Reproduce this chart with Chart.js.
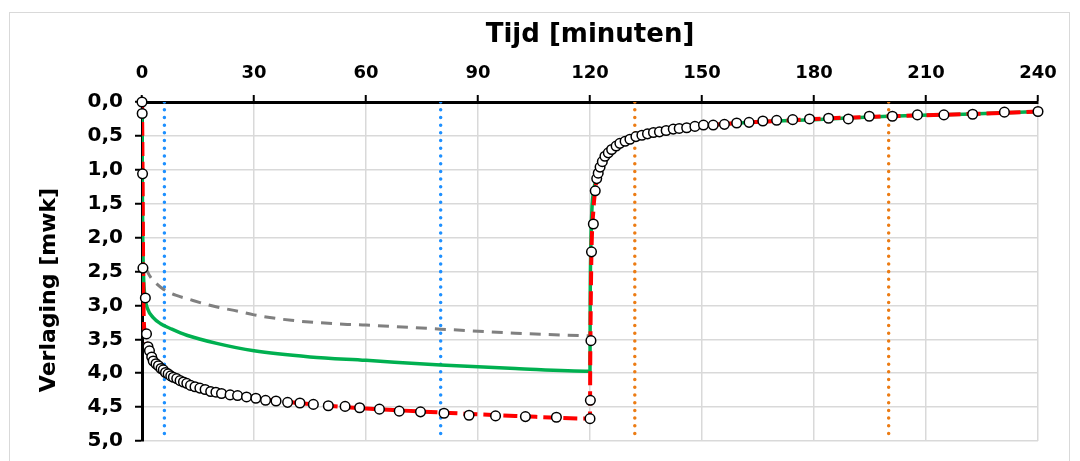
<!DOCTYPE html>
<html>
<head>
<meta charset="utf-8">
<script src="https://cdn.jsdelivr.net/npm/chart.js@4.4.1/dist/chart.umd.min.js"></script>
<style>
    html, body { margin: 0; padding: 0; background: #fff; }
    #wrap { position: relative; width: 1080px; height: 461px; overflow: hidden; }
    #frame { position: absolute; left: 9px; top: 12px; width: 1061px; height: 470px; border: 1.5px solid #d9d9d9; box-sizing: border-box; }
    #chart { position: absolute; left: 0; top: 0; }
</style>
</head>
<body>
<div id="wrap">
    <div id="frame"></div>
    <canvas id="chart" width="1080" height="461"></canvas>
</div>
<script>
// axis texts
var xTitle = 'Tijd [minuten]';
var yTitle = 'Verlaging [mwk]';

// measured drawdown (circles)
var measTime = [0, 0.05, 0.15, 0.25, 0.9, 1.2, 1.6, 2.0, 2.6, 3.0, 3.75, 4.4, 5.1, 5.7, 6.3, 7.0, 7.7, 8.4, 9.3, 10.2,
    11.1, 12.0, 13.0, 14.2, 15.5, 16.9, 18.4, 19.8, 21.3, 23.6, 25.6, 28.0, 30.5, 33.1, 35.9, 39.0, 42.3, 45.9, 49.9, 54.4,
    58.3, 63.6, 68.9, 74.6, 80.9, 87.6, 94.7, 102.7, 111.0, 120.0, 120.1, 120.25, 120.4, 120.9, 121.4, 121.8, 122.2, 122.7, 123.3, 124.0,
    124.9, 125.8, 127.0, 128.0, 129.4, 130.7, 132.3, 133.9, 135.4, 137.0, 138.6, 140.4, 142.3, 143.9, 145.9, 148.1, 150.4, 153.0, 156.0, 159.3,
    162.6, 166.3, 170.0, 174.3, 178.8, 183.9, 189.2, 194.8, 201.0, 207.7, 214.8, 222.5, 231.0, 240.0];
var measDepth = [0, 0.17, 1.06, 2.45, 2.89, 3.42, 3.61, 3.67, 3.76, 3.82, 3.86, 3.89, 3.93, 3.95, 3.99, 4.01, 4.04, 4.06, 4.08, 4.11,
    4.13, 4.15, 4.18, 4.20, 4.22, 4.24, 4.27, 4.28, 4.30, 4.32, 4.33, 4.35, 4.37, 4.40, 4.41, 4.43, 4.44, 4.46, 4.48, 4.49,
    4.51, 4.53, 4.56, 4.57, 4.59, 4.62, 4.63, 4.64, 4.65, 4.67, 4.40, 3.52, 2.21, 1.80, 1.31, 1.13, 1.05, 0.96, 0.88, 0.80,
    0.75, 0.70, 0.65, 0.61, 0.58, 0.55, 0.51, 0.49, 0.47, 0.45, 0.44, 0.42, 0.40, 0.39, 0.38, 0.36, 0.34, 0.34, 0.33, 0.31,
    0.30, 0.28, 0.27, 0.26, 0.25, 0.24, 0.25, 0.21, 0.21, 0.19, 0.19, 0.18, 0.15, 0.14];

// fitted model (red dashed)
var fitTime = [0, 0.1, 0.2, 0.3, 0.4, 0.6, 1.0, 1.7, 2.6, 3.75, 5, 7, 10, 15, 20, 30, 40, 50, 60, 80, 100, 120,
    120.05, 120.2, 120.4, 120.9, 121.4, 122, 123, 124, 125.5, 127, 129, 132, 135, 140, 145, 150, 160, 170, 180, 200, 220, 240];
var fitDepth = [0, 0.6, 1.5, 2.4, 3.0, 3.35, 3.52, 3.63, 3.75, 3.86, 3.93, 4.01, 4.10, 4.21, 4.28, 4.37, 4.43, 4.48, 4.52, 4.58, 4.63, 4.67,
    4.0, 3.0, 2.2, 1.6, 1.3, 1.07, 0.9, 0.8, 0.71, 0.65, 0.59, 0.52, 0.47, 0.42, 0.38, 0.35, 0.31, 0.28, 0.25, 0.21, 0.18, 0.14];

// second model (green solid)
var modelTime = [0, 0.05, 0.1, 0.2, 0.4, 0.8, 1.5, 3, 5, 8, 12, 20, 30, 45, 60, 80, 100, 120,
    120.05, 120.2, 120.5, 121, 121.6, 122.2, 123, 124, 125.5, 127, 129, 132, 135, 140, 145, 150, 160, 170, 180, 200, 220, 240];
var modelDepth = [0, 0.6, 1.3, 2.0, 2.55, 2.88, 3.05, 3.18, 3.27, 3.35, 3.44, 3.56, 3.67, 3.76, 3.81, 3.88, 3.93, 3.97,
    3.0, 2.2, 1.6, 1.3, 1.15, 1.05, 0.92, 0.81, 0.72, 0.65, 0.59, 0.52, 0.47, 0.42, 0.38, 0.35, 0.31, 0.28, 0.26, 0.21, 0.18, 0.14];

// straight-line approximation (grey dashed)
var approxTime = [1, 2, 3.5, 5.7, 9, 12, 19, 26, 30, 40, 55, 60, 80, 100, 120];
var approxDepth = [2.45, 2.56, 2.66, 2.76, 2.85, 2.90, 3.01, 3.09, 3.14, 3.22, 3.28, 3.29, 3.35, 3.41, 3.45];

// vertical dotted markers
var blueTimes = [6, 80];
var orangeTimes = [132, 200];

var yMin = 0, yMax = 5;

function pairs(xs, ys) {
    var out = [];
    for (var i = 0; i < xs.length; i++) out.push({ x: xs[i], y: ys[i] });
    return out;
}

function vLine(t, color) {
    return {
        data: [{ x: t, y: yMin }, { x: t, y: yMax }],
        showLine: true,
        borderColor: color,
        borderWidth: 3.5,
        borderDash: [0.01, 7.7],
        borderCapStyle: 'round',
        pointRadius: 0,
        order: 5
    };
}

var font = 'DejaVu Sans';

var yTitlePlugin = {
    id: 'yTitle',
    afterDraw: function (chart) {
        var ctx = chart.ctx;
        ctx.save();
        ctx.translate(49, 290);
        ctx.rotate(-Math.PI / 2);
        ctx.font = 'bold 22px "' + font + '"';
        ctx.fillStyle = '#000';
        ctx.textAlign = 'center';
        ctx.textBaseline = 'middle';
        ctx.fillText(yTitle, 0, 0);
        ctx.restore();
    }
};

var datasets = [
    {
        data: pairs(measTime, measDepth),
        showLine: false,
        pointStyle: 'circle',
        pointRadius: 4.8,
        pointBorderWidth: 1.5,
        pointBorderColor: '#000',
        pointBackgroundColor: '#fff',
        clip: false,
        order: 0
    },
    {
        data: pairs(fitTime, fitDepth),
        showLine: true,
        borderColor: '#ff0000',
        borderWidth: 4,
        borderDash: [14, 6],
        cubicInterpolationMode: 'monotone',
        pointRadius: 0,
        order: 1
    },
    {
        data: pairs(modelTime, modelDepth),
        showLine: true,
        borderColor: '#00b050',
        borderWidth: 3.5,
        cubicInterpolationMode: 'monotone',
        pointRadius: 0,
        order: 2
    },
    {
        data: pairs(approxTime, approxDepth),
        showLine: true,
        borderColor: '#808080',
        borderWidth: 3,
        borderDash: [11, 8],
        cubicInterpolationMode: 'monotone',
        pointRadius: 0,
        order: 3
    }
];
blueTimes.forEach(function (t) { datasets.push(vLine(t, '#1e90ff')); });
orangeTimes.forEach(function (t) { datasets.push(vLine(t, '#ec7c14')); });

var ctx = document.getElementById('chart').getContext('2d');
var chart = new Chart(ctx, {
    type: 'scatter',
    data: { datasets: datasets },
    plugins: [yTitlePlugin],
    options: {
        responsive: false,
        animation: false,
        events: [],
        layout: { padding: { left: 0, top: 0, right: 42, bottom: 20 } },
        plugins: {
            legend: { display: false },
            tooltip: { enabled: false }
        },
        scales: {
            x: {
                type: 'linear',
                position: 'top',
                min: 0,
                max: 240,
                afterFit: function (scale) {
                    scale.height = 102;
                    scale.paddingLeft = 0;
                    scale.paddingRight = 0;
                },
                ticks: {
                    stepSize: 30,
                    padding: 11,
                    color: '#000',
                    font: { family: font, size: 18, weight: 'bold' }
                },
                grid: { color: '#d9d9d9', lineWidth: 1.5, tickLength: 7, tickColor: '#000', tickWidth: 2 },
                border: { color: '#000', width: 3 },
                title: {
                    display: true,
                    text: xTitle,
                    color: '#000',
                    padding: { top: 20, bottom: 0 },
                    font: { family: font, size: 26, weight: 'bold' }
                }
            },
            y: {
                type: 'linear',
                reverse: true,
                min: yMin,
                max: yMax,
                afterFit: function (scale) {
                    scale.width = 142;
                    scale.paddingTop = 0;
                    scale.paddingBottom = 0;
                },
                ticks: {
                    stepSize: 0.5,
                    padding: 12,
                    color: '#000',
                    font: { family: font, size: 20, weight: 'bold' },
                    callback: function (v) { return v.toFixed(1).replace('.', ','); }
                },
                grid: { color: '#d9d9d9', lineWidth: 1.5, tickLength: 7, tickColor: '#000', tickWidth: 2 },
                border: { color: '#000', width: 3 }
            }
        }
    }
});
</script>
</body>
</html>
